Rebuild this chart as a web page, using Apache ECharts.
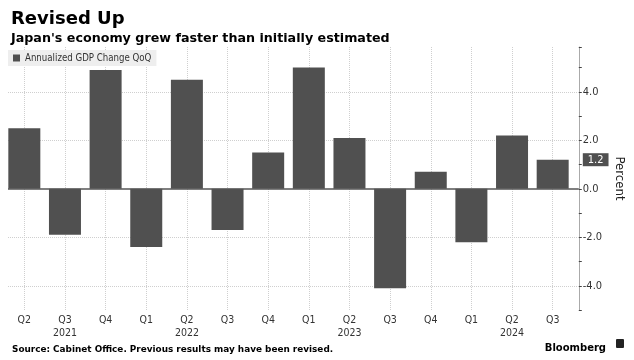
<!DOCTYPE html>
<html><head><meta charset="utf-8">
<script src="https://cdn.jsdelivr.net/npm/echarts@6/dist/echarts.min.js"></script>
<style>html,body{margin:0;padding:0;background:#fff}#c{width:634px;height:360px}</style>
</head><body><div id="c"></div>
<script>
const quarters = ['Q2','Q3','Q4','Q1','Q2','Q3','Q4','Q1','Q2','Q3','Q4','Q1','Q2','Q3'];
const years = ['', '2021', '', '', '2022', '', '', '', '2023', '', '', '', '2024', ''];
const values = [2.5, -1.9, 4.9, -2.4, 4.5, -1.7, 1.5, 5.0, 2.1, -4.1, 0.7, -2.2, 2.2, 1.2];
const yMin = -5, yMax = 5.85, yStep = 1;
const gridValues = [-4, -2, 2, 4];
const seriesName = 'Annualized GDP Change QoQ';

const categories = quarters.map((q, i) => years[i] ? q + '\n' + years[i] : q);
const lastValue = values[values.length - 1];
const FONT = 'DejaVu Sans';
const NARROW = "'DejaVu Sans Condensed', 'Liberation Sans Narrow', 'DejaVu Sans'";

const chart = echarts.init(document.getElementById('c'), null, {renderer: 'canvas'});
chart.setOption({
  animation: false,
  backgroundColor: '#fff',
  title: [
    {text: 'Revised Up', left: 6, top: 5, textStyle: {fontFamily: FONT, fontWeight: 'bold', fontSize: 18, color: '#000'}},
    {text: "Japan's economy grew faster than initially estimated", left: 6, top: 27, textStyle: {fontFamily: FONT, fontWeight: 'bold', fontSize: 12.7, color: '#000'}},
    {text: 'Source: Cabinet Office. Previous results may have been revised.', left: 7, top: 340, textStyle: {fontFamily: FONT, fontWeight: 'bold', fontSize: 8.9, color: '#000'}},
    {text: 'Bloomberg', right: 23, top: 338, textStyle: {fontFamily: FONT, fontWeight: 'bold', fontSize: 10, color: '#000'}}
  ],
  graphic: [
    {type: 'rect', left: 616, top: 339, shape: {width: 8, height: 9, r: 1}, style: {fill: '#222'}}
  ],
  legend: {
    left: 8, top: 50, data: [seriesName], icon: 'rect', itemWidth: 7, itemHeight: 7,
    padding: [3, 5, 3, 5], backgroundColor: '#eeeeee', selectedMode: false,
    textStyle: {fontFamily: NARROW, fontSize: 9.6, color: '#333'}
  },
  grid: [
    {left: 4, right: 61, top: 47, bottom: 50},
    {left: 8, right: 52, top: 47, bottom: 50}
  ],
  xAxis: [
    {type: 'category', gridIndex: 0, data: categories,
     axisLine: {show: false}, axisTick: {show: false}, splitLine: {show: false},
     axisLabel: {margin: 4, fontFamily: NARROW, fontSize: 10.5, color: '#333', lineHeight: 13, interval: 0}},
    {type: 'value', gridIndex: 1, min: 0, max: 1, show: false}
  ],
  yAxis: [
    {type: 'value', gridIndex: 0, min: yMin, max: yMax, show: false},
    {type: 'value', gridIndex: 1, position: 'right', min: yMin, max: yMax, interval: yStep,
     axisLine: {show: true, onZero: false, lineStyle: {color: '#aaaaaa', width: 1}},
     axisTick: {show: true, length: 3, inside: false, lineStyle: {color: '#444'}},
     axisLabel: {margin: 4, fontFamily: NARROW, fontSize: 11, color: '#333',
       formatter: v => (Number.isInteger(v) && v % 2 === 0) ? v.toFixed(1) : ''},
     splitLine: {show: false},
     name: 'Percent', nameLocation: 'middle', nameRotate: -90, nameGap: 30,
     nameTextStyle: {fontFamily: NARROW, fontSize: 13, color: '#222'}}
  ],
  series: [
    {type: 'line', xAxisIndex: 0, yAxisIndex: 0, data: [], z: 1, silent: true,
     markLine: {z: 1, symbol: 'none', silent: true, label: {show: false},
       lineStyle: {type: 'dotted', color: '#cfcfcf', width: 1},
       data: categories.map((c, i) => ({xAxis: i}))}},
    {type: 'line', xAxisIndex: 1, yAxisIndex: 1, data: [], z: 1, silent: true,
     markLine: {z: 1, symbol: 'none', silent: true, label: {show: false},
       lineStyle: {type: 'dotted', color: '#cfcfcf', width: 1},
       data: gridValues.map(v => ({yAxis: v}))}},
    {type: 'bar', name: seriesName, xAxisIndex: 0, yAxisIndex: 0, data: values,
     barWidth: 32, itemStyle: {color: '#505050'}, z: 3},
    {type: 'line', xAxisIndex: 1, yAxisIndex: 1, data: [], z: 5, silent: true,
     markLine: {z: 6, symbol: 'none', silent: true,
       data: [
         {yAxis: 0, lineStyle: {color: '#555', width: 1.5, type: 'solid'}, label: {show: false}},
         {yAxis: lastValue, lineStyle: {color: 'rgba(0,0,0,0)', width: 0},
          label: {show: true, position: 'end', distance: 4, formatter: lastValue.toFixed(1),
            backgroundColor: '#505050', color: '#fff', padding: [1, 5, 1, 5],
            fontSize: 11, fontFamily: NARROW}}
       ]}}
  ]
});
</script></body></html>
